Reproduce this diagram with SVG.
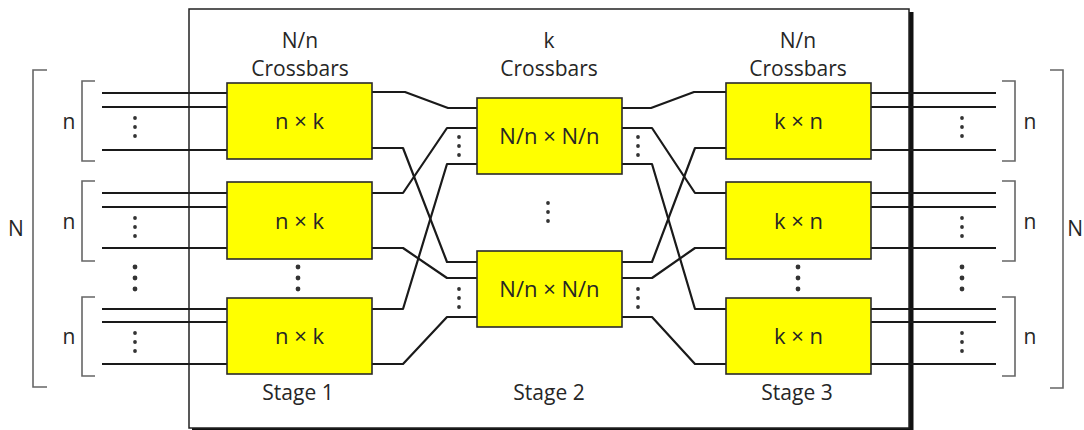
<svg xmlns="http://www.w3.org/2000/svg" width="1084" height="430" viewBox="0 0 1084 430">
<style>
.t{font-family:"Open Sans","Liberation Sans",sans-serif;font-size:21px;fill:#262626;text-anchor:middle}
.bt{font-size:22px}
.box{fill:#ffff00;stroke:#2a2a2a;stroke-width:1.6}
.w{fill:none;stroke:#1a1a1a;stroke-width:2.2;stroke-linejoin:round}
.br{fill:none;stroke:#666;stroke-width:1.6}
.d{fill:#333}
</style>
<defs>
<g id="vd"><circle cx="0" cy="0" r="1.9"/><circle cx="0" cy="9" r="1.9"/><circle cx="0" cy="18" r="1.9"/></g>
<g id="vdb"><circle cx="0" cy="0" r="2.4"/><circle cx="0" cy="11" r="2.4"/><circle cx="0" cy="22" r="2.4"/></g>
</defs>
<rect width="1084" height="430" fill="#fff"/>

<g id="frame">
<rect x="909" y="12" width="4.5" height="420" fill="#111"/>
<rect x="192" y="428" width="721" height="4" fill="#111"/>
<rect x="189" y="9" width="720" height="419" fill="none" stroke="#222" stroke-width="1.5"/>
</g>

<g id="connectors">
<path class="w" d="M102 93H227M102 107H227M102 150H227M102 193H227M102 207H227M102 248H227M102 309H227M102 322H227M102 364H227"/>
<path class="w" d="M871 93H996M871 107H996M871 150H996M871 193H996M871 207H996M871 248H996M871 309H996M871 322H996M871 364H996"/>
<path class="w" d="M372 92H405L448 108H477"/>
<path class="w" d="M372 148H403L447 262H477"/>
<path class="w" d="M372 193H403L447 128H477"/>
<path class="w" d="M372 248H403L447 278H477"/>
<path class="w" d="M372 309H403L447 164H477"/>
<path class="w" d="M372 364H403L447 317H477"/>
<path class="w" d="M622 108H651L694 92H726"/>
<path class="w" d="M622 128H652L695 193H726"/>
<path class="w" d="M622 164H652L695 309H726"/>
<path class="w" d="M622 262H652L695 148H726"/>
<path class="w" d="M622 278H652L695 248H726"/>
<path class="w" d="M622 317H652L695 364H726"/>
</g>

<g id="brackets">
<path class="br" d="M95 81H82V161H95"/>
<path class="br" d="M95 181H82V261H95"/>
<path class="br" d="M95 297H82V376H95"/>
<path class="br" d="M47 70H33V387H47"/>
<path class="br" d="M1002 81H1015V161H1002"/>
<path class="br" d="M1002 181H1015V261H1002"/>
<path class="br" d="M1002 297H1015V376H1002"/>
<path class="br" d="M1050 70H1063V388H1050"/>
</g>

<g id="dots" class="d">
<use href="#vd" x="135" y="118"/>
<use href="#vd" x="135" y="218"/>
<use href="#vd" x="135" y="333"/>
<use href="#vdb" x="135" y="267"/>
<use href="#vdb" x="298" y="267"/>
<use href="#vd" x="962" y="118"/>
<use href="#vd" x="962" y="218"/>
<use href="#vd" x="962" y="333"/>
<use href="#vdb" x="962" y="267"/>
<use href="#vdb" x="798" y="267"/>
<use href="#vd" x="459" y="137"/>
<use href="#vd" x="459" y="289"/>
<use href="#vd" x="638" y="137"/>
<use href="#vd" x="638" y="289"/>
<use href="#vd" x="548" y="203"/>
</g>

<g id="labels">
<text class="t" x="300" y="48">N/n</text>
<text class="t" x="300" y="76">Crossbars</text>
<text class="t" x="549" y="48">k</text>
<text class="t" x="549" y="76">Crossbars</text>
<text class="t" x="798" y="48">N/n</text>
<text class="t" x="798" y="76">Crossbars</text>
<text class="t" x="298" y="400">Stage 1</text>
<text class="t" x="549" y="400">Stage 2</text>
<text class="t" x="797" y="400">Stage 3</text>
<text class="t" x="69" y="129">n</text>
<text class="t" x="69" y="229">n</text>
<text class="t" x="69" y="344">n</text>
<text class="t" x="1030" y="129">n</text>
<text class="t" x="1030" y="229">n</text>
<text class="t" x="1030" y="344">n</text>
<text class="t" x="16" y="236">N</text>
<text class="t" x="1083" y="236" style="text-anchor:end">N</text>
</g>

<g id="s1b1"><rect class="box" x="227" y="83" width="145" height="76"/><text class="t bt" x="299.5" y="129">n × k</text></g>
<g id="s1b2"><rect class="box" x="227" y="182" width="145" height="77"/><text class="t bt" x="299.5" y="229">n × k</text></g>
<g id="s1b3"><rect class="box" x="227" y="298" width="145" height="76"/><text class="t bt" x="299.5" y="344">n × k</text></g>
<g id="s2b1"><rect class="box" x="477" y="98" width="145" height="76"/><text class="t bt" x="549.5" y="144">N/n × N/n</text></g>
<g id="s2b2"><rect class="box" x="477" y="251" width="145" height="76"/><text class="t bt" x="549.5" y="297">N/n × N/n</text></g>
<g id="s3b1"><rect class="box" x="726" y="83" width="145" height="76"/><text class="t bt" x="798.5" y="129">k × n</text></g>
<g id="s3b2"><rect class="box" x="726" y="182" width="145" height="77"/><text class="t bt" x="798.5" y="229">k × n</text></g>
<g id="s3b3"><rect class="box" x="726" y="298" width="145" height="76"/><text class="t bt" x="798.5" y="344">k × n</text></g>
</svg>
